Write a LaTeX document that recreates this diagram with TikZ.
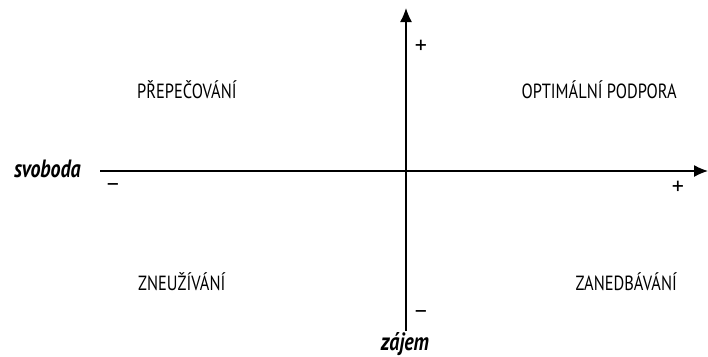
\documentclass[tikz,border=0pt]{standalone}
\usepackage{fontspec}
\setmainfont[FakeStretch=0.8]{PT Sans}
\newfontfamily\signfont{PT Sans}
\usetikzlibrary{arrows.meta}

\begin{document}
\begin{tikzpicture}
[
	x=1pt,
	y=-1pt,
	axis/.style={line width=1.3pt,-{Latex[length=14pt,width=12pt]}},
	quadrant/.style={font=\fontsize{20.5}{22}\selectfont,inner sep=0pt},
	sign/.style={font=\signfont\fontsize{24}{26}\selectfont,inner sep=0pt},
	axislabel/.style={font=\fontsize{25}{27}\selectfont\bfseries\itshape,inner sep=0pt}
]

	\useasboundingbox (0,0) rectangle (708,356);

	% axes
	\coordinate (west) at (100,171);
	\coordinate (east) at (708,171);
	\coordinate (south) at (406,331);
	\coordinate (north) at (406,8);
	\draw[axis] (west) -- (east);
	\draw[axis] (south) -- (north);

	\node[axislabel,anchor=base east] (svoboda) at (81,177) {svoboda};
	\node[axislabel,anchor=base] (zajem) at (405,350) {zájem};

	\node[sign] (xminus) at (113,188) {−};
	\node[sign] (xplus) at (678,188) {+};
	\node[sign] (yplus) at (421,46.5) {+};
	\node[sign] (yminus) at (421,315) {−};

	% quadrants
	\node[quadrant,anchor=base west] (prepecovani) at (137,98.5) {PŘEPEČOVÁNÍ};
	\node[quadrant,anchor=base east] (podpora) at (677,98.5) {OPTIMÁLNÍ PODPORA};
	\node[quadrant,anchor=base west] (zneuzivani) at (138,290) {ZNEUŽÍVÁNÍ};
	\node[quadrant,anchor=base east] (zanedbavani) at (677,290) {ZANEDBÁVÁNÍ};

\end{tikzpicture}
\end{document}
